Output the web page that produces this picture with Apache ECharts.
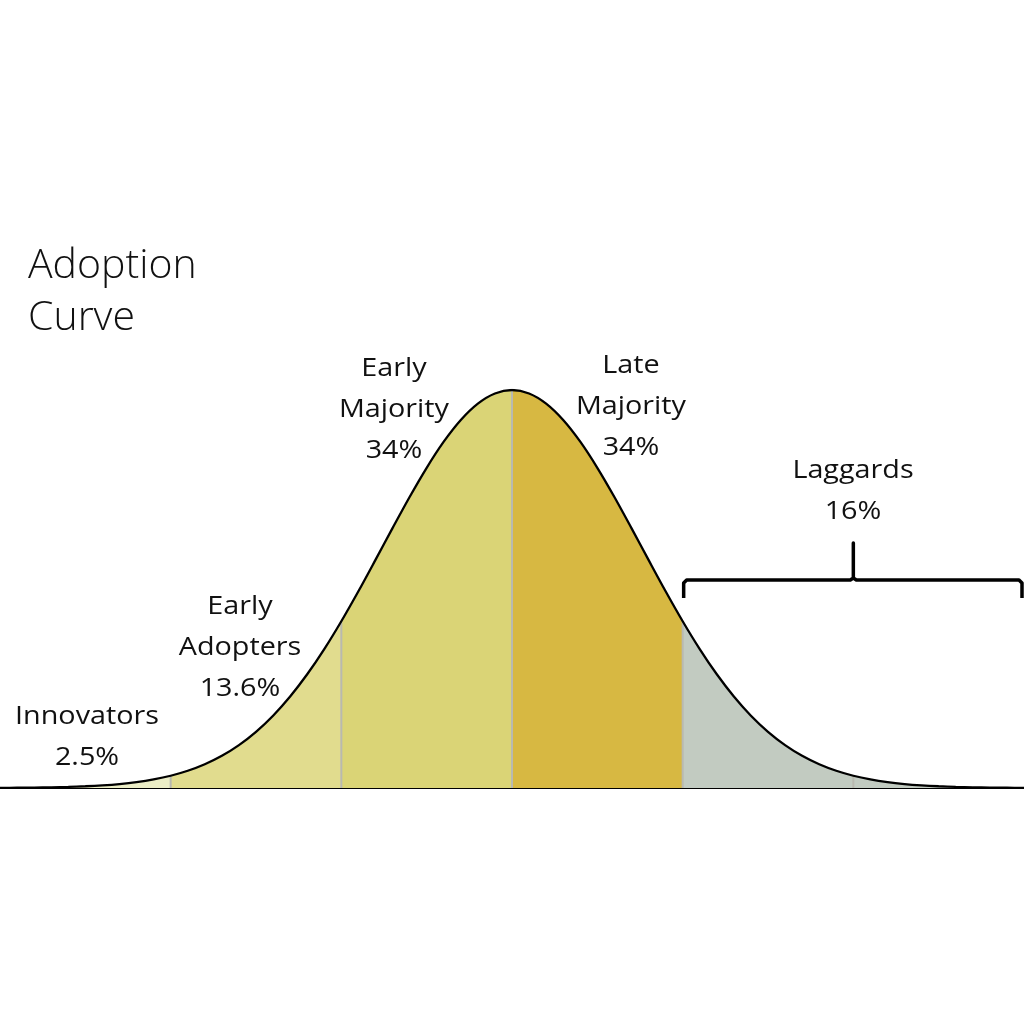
<!DOCTYPE html>
<html><head><meta charset="utf-8">
<script src="https://cdn.jsdelivr.net/npm/echarts@6/dist/echarts.min.js"></script>
<style>html,body{margin:0;padding:0;background:#fff}#c{width:1024px;height:1024px}</style>
</head><body><div id="c"></div>
<script>
// Horizontal positions (segment units: dividers at integers)
const xs = [-3.0,-2.9,-2.8,-2.7,-2.6,-2.5,-2.4,-2.3,-2.2,-2.1,-2.0,-1.9,-1.8,-1.7,-1.6,-1.5,-1.4,-1.3,-1.2,-1.1,-1.0,
  -0.9,-0.8,-0.7,-0.6,-0.5,-0.4,-0.3,-0.2,-0.1,0.0,0.1,0.2,0.3,0.4,0.5,0.6,0.7,0.8,0.9,1.0,
  1.1,1.2,1.3,1.4,1.5,1.6,1.7,1.8,1.9,2.0,2.1,2.2,2.3,2.4,2.5,2.6,2.7,2.8,2.9,3.0];
// Curve height (peak = 1)
const curve = [0.0004,0.0007,0.0011,0.0018,0.0028,0.0044,0.0067,0.0100,0.0148,0.0216,0.0308,
  0.0433,0.0597,0.0809,0.1078,0.1412,0.1817,0.2299,0.2857,0.3490,0.4190,
  0.4943,0.5731,0.6529,0.7311,0.8045,0.8701,0.9247,0.9658,0.9913,1.0000,
  0.9913,0.9658,0.9247,0.8701,0.8045,0.7311,0.6529,0.5731,0.4943,0.4190,
  0.3490,0.2857,0.2299,0.1817,0.1412,0.1078,0.0809,0.0597,0.0433,0.0308,
  0.0216,0.0148,0.0100,0.0067,0.0044,0.0028,0.0018,0.0011,0.0007,0.0004];
// Segments
const segNames = ['Innovators','Early Adopters','Early Majority','Late Majority','Laggards'];
const segShares = ['2.5%','13.6%','34%','34%','16%'];
const segStart = [-3,-2,-1,0,1];
const segEnd = [-2,-1,0,1,3];
const segColors = ['#eceec6','#e1dc8e','#dad476','#d7b842','#c2cbc1'];
const dividers = [-2,-1,0,1,2];
const bracketRange = [1,3];

function valAt(u){ let i = xs.findIndex(x => Math.abs(x-u) < 1e-6); return curve[i]; }
const pts = xs.map((x,i)=>[x,curve[i]]);

const series = [];
segStart.forEach((s,k)=>{
  series.push({
    type:'line', name: segNames[k], symbol:'none', silent:true,
    data: pts.filter(p => p[0] >= s-1e-6 && p[0] <= segEnd[k]+1e-6),
    lineStyle:{width:0}, areaStyle:{color:segColors[k], opacity:1}, z:1
  });
});
series.push({
  type:'custom', silent:true, z:2,
  data: dividers.map(u=>[u, valAt(u)]),
  renderItem:(params, api)=>{
    const a = api.coord([api.value(0),0]), b = api.coord([api.value(0),api.value(1)]);
    return {type:'line', shape:{x1:a[0],y1:a[1],x2:b[0],y2:b[1]}, style:{stroke:'#b9b9b0', lineWidth:2}};
  }
});
series.push({
  type:'line', symbol:'none', silent:true, smooth:0.3, data: pts,
  lineStyle:{color:'#000', width:2.3}, z:3
});
series.push({
  type:'custom', silent:true, z:4,
  data: [bracketRange],
  renderItem:(params, api)=>{
    const a = api.coord([api.value(0),0]), b = api.coord([api.value(1),0]);
    const x1 = a[0]+1, x2 = b[0]-2, xm = (a[0]+b[0])/2;
    const yb = 598, yh = 580, yt = 543, r = 3;
    return {type:'polyline', shape:{points:[[x1,yb],[x1,yh+r],[x1+r,yh],[xm-r,yh],[xm,yh-2],[xm,yt],[xm,yh-2],[xm+r,yh],[x2-r,yh],[x2,yh+r],[x2,yb]]},
      style:{stroke:'#000', lineWidth:3.5, fill:null, lineJoin:'round'}};
  }
});

const font = '"Open Sans", "Noto Sans", sans-serif';
function lbl(x,y,text){
  return {type:'text', x:x, y:y, scaleX:1.15, style:{text:text, font:'25px '+font, fill:'#111', align:'center', verticalAlign:'top', lineHeight:41}, z:10};
}
const chart = echarts.init(document.getElementById('c'));
chart.setOption({
  animation:false,
  grid:{left:0,right:0,top:390,bottom:236},
  xAxis:{type:'value',min:-3,max:3,axisLine:{show:true,onZero:false,lineStyle:{color:'#000',width:2}},axisTick:{show:false},axisLabel:{show:false},splitLine:{show:false}},
  yAxis:{type:'value',min:0,max:1,show:false},
  series:series,
  graphic:[
    {type:'text', x:28, y:240, style:{text:'Adoption\nCurve', font:'300 41px '+font, fill:'#111', lineHeight:52}},
    lbl(394,348, segNames[2].replace(' ','\n')+'\n'+segShares[2]),
    lbl(631,345, segNames[3].replace(' ','\n')+'\n'+segShares[3]),
    lbl(853,450, segNames[4]+'\n'+segShares[4]),
    lbl(240,586, segNames[1].replace(' ','\n')+'\n'+segShares[1]),
    lbl(87,696, segNames[0]+'\n'+segShares[0])
  ]
});
</script></body></html>
